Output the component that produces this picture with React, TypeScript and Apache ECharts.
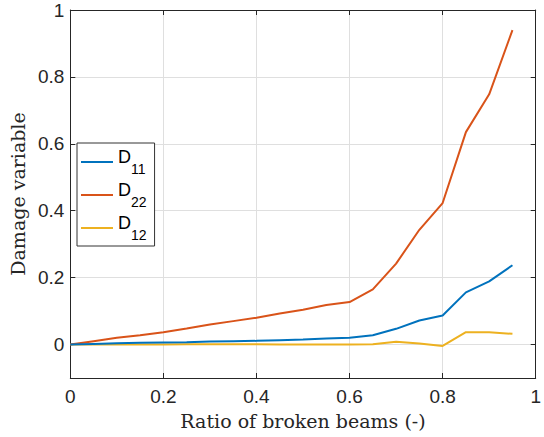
import React, { useEffect, useRef } from "react";
import * as echarts from "echarts";

const ratio = [0, 0.05, 0.1, 0.15, 0.2, 0.25, 0.3, 0.35, 0.4, 0.45, 0.5, 0.55, 0.6, 0.65, 0.7, 0.75, 0.8, 0.85, 0.9, 0.95];
const d11 = [0, 0.002, 0.004, 0.005, 0.006, 0.007, 0.009, 0.01, 0.011, 0.013, 0.015, 0.018, 0.02, 0.028, 0.047, 0.072, 0.087, 0.156, 0.189, 0.237];
const d22 = [0, 0.01, 0.02, 0.028, 0.037, 0.048, 0.06, 0.07, 0.08, 0.093, 0.104, 0.118, 0.127, 0.165, 0.242, 0.343, 0.423, 0.635, 0.748, 0.94];
const d12 = [0, 0, 0, 0, 0, 0.001, 0.001, 0.001, 0.001, 0, 0, 0, 0, 0.001, 0.008, 0.003, -0.004, 0.037, 0.037, 0.032];
const yTicks = [0, 0.2, 0.4, 0.6, 0.8, 1];
const seriesNames = ["D11", "D22", "D12"];
const colors = ["#0072BD", "#D95319", "#EDB120"];

const axisColor = "#262626";
const gridColor = "#dfdfdf";
const sans = "Liberation Sans";
const serif = "DejaVu Serif";

export default function App() {
  const ref = useRef<HTMLDivElement>(null);
  useEffect(() => {
    if (!ref.current) return;
    const chart = echarts.init(ref.current, null, { renderer: "svg" });
    const zip = (ys: number[]) => ratio.map((x, i) => [x, ys[i]]);
    const data = [d11, d22, d12];
    const tickLabel = {
      fontFamily: sans,
      fontSize: 19,
      color: "#262626",
      formatter: (v: number) => String(Math.round(v * 10) / 10),
    };
    chart.setOption({
      animation: false,
      textStyle: { fontFamily: sans, fontSize: 18 },
      grid: { left: 67, right: 2, top: 10, bottom: 59, containLabel: false },
      legend: {
        orient: "vertical",
        left: 77,
        top: 143,
        padding: [5, 8, 4, 4],
        backgroundColor: "#fff",
        borderColor: "#333",
        borderWidth: 1,
        icon: "rect",
        itemWidth: 32,
        itemHeight: 2,
        itemGap: 5,
        data: seriesNames,
        formatter: (name: string) => `{m|D}{sub|${name.slice(1)}}`,
        textStyle: {
          padding: [0, 0, 0, 0],
          rich: {
            m: { fontFamily: sans, fontSize: 18, color: "#000", verticalAlign: "top" },
            sub: { fontFamily: sans, fontSize: 14, color: "#000", padding: [14, 0, 0, 0], verticalAlign: "top" },
          },
        },
      },
      xAxis: [
        {
          type: "value",
          min: 0,
          max: 1,
          interval: 0.2,
          name: "Ratio of broken beams (-)",
          nameLocation: "middle",
          nameGap: 33,
          nameTextStyle: { fontFamily: serif, fontSize: 19, color: "#262626" },
          axisLine: { show: true, onZero: false, lineStyle: { color: axisColor, width: 1 } },
          axisTick: { show: true, inside: true, length: 5, lineStyle: { color: axisColor } },
          axisLabel: { ...tickLabel, margin: 9 },
          splitLine: { show: true, lineStyle: { color: gridColor, width: 1 } },
        },
        {
          type: "value",
          position: "top",
          min: 0,
          max: 1,
          interval: 0.2,
          axisLine: { show: true, onZero: false, lineStyle: { color: axisColor, width: 1 } },
          axisTick: { show: true, inside: true, length: 5, lineStyle: { color: axisColor } },
          axisLabel: { show: false },
          splitLine: { show: false },
        },
      ],
      yAxis: [
        {
          type: "value",
          min: -0.1,
          max: 1,
          name: "Damage variable",
          nameLocation: "middle",
          nameGap: 42,
          nameRotate: 90,
          nameTextStyle: { fontFamily: serif, fontSize: 19, color: "#262626" },
          axisLine: { show: true, onZero: false, lineStyle: { color: axisColor, width: 1 } },
          axisTick: { show: true, inside: true, length: 5, customValues: yTicks, lineStyle: { color: axisColor } },
          axisLabel: { ...tickLabel, customValues: yTicks, margin: 6 },
          splitLine: { show: true, lineStyle: { color: gridColor, width: 1 } },
        },
        {
          type: "value",
          position: "right",
          min: -0.1,
          max: 1,
          axisLine: { show: true, onZero: false, lineStyle: { color: axisColor, width: 1 } },
          axisTick: { show: true, inside: true, length: 5, customValues: yTicks, lineStyle: { color: axisColor } },
          axisLabel: { show: false },
          splitLine: { show: false },
        },
      ],
      series: seriesNames.map((name, i) => ({
        name,
        type: "line",
        xAxisIndex: 0,
        yAxisIndex: 0,
        data: zip(data[i]),
        symbol: "none",
        color: colors[i],
        lineStyle: { width: 2, color: colors[i] },
        z: 3 - i,
      })),
    });
    return () => chart.dispose();
  }, []);
  return <div ref={ref} style={{ width: 544, height: 437, position: "absolute", left: 0, top: 0 }} />;
}
